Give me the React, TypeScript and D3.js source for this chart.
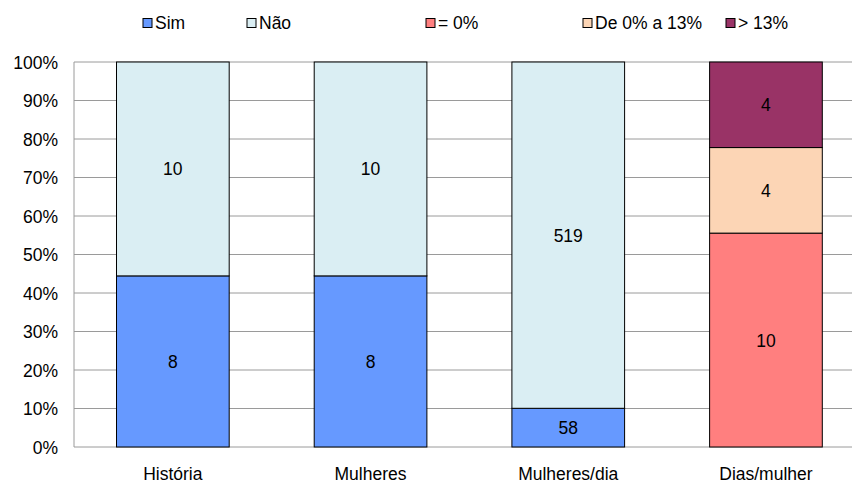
import React from "react";
import * as d3 from "d3";

const categories = ["História", "Mulheres", "Mulheres/dia", "Dias/mulher"];
const seriesNames = ["Sim", "Não", "= 0%", "De 0% a 13%", "> 13%"];
const seriesColors = ["#6699FF", "#DAEEF3", "#FF7F7F", "#FCD5B5", "#993366"];
// values per category, per series (stack order bottom -> top)
const simValues = [8, 8, 58, 0];
const naoValues = [10, 10, 519, 0];
const zeroValues = [0, 0, 0, 10];
const midValues = [0, 0, 0, 4];
const highValues = [0, 0, 0, 4];
const yTicks = [0, 0.1, 0.2, 0.3, 0.4, 0.5, 0.6, 0.7, 0.8, 0.9, 1];

const W = 852, H = 484;
const left = 74, top = 62, bottom = 447;
const step = 197.7;
const legendX = [143, 247, 426, 583, 726];

export default function App() {
  const allSeries = [simValues, naoValues, zeroValues, midValues, highValues];
  const x = d3
    .scaleBand<string>()
    .domain(categories)
    .range([left, left + step * categories.length])
    .paddingInner(0.43)
    .paddingOuter(0.215);
  const y = d3.scaleLinear().domain([0, 1]).range([bottom, top]);
  const fmt = d3.format(".0%");

  const segs: any[] = [];
  categories.forEach((c, ci) => {
    const total = d3.sum(allSeries, (s) => s[ci]);
    let acc = 0;
    allSeries.forEach((s, si) => {
      const v = s[ci];
      if (v > 0) {
        const y0 = acc / total;
        const y1 = (acc + v) / total;
        segs.push({ c, si, v, y0, y1 });
        acc += v;
      }
    });
  });

  const font = "Liberation Sans, Arial, sans-serif";
  const fs = 17.5;
  return (
    <svg width={W} height={H} style={{ position: "absolute", left: 0, top: 0, background: "#fff" }} fontFamily={font}>
      {yTicks.map((t) => (
        <g key={t}>
          <line x1={left} x2={W} y1={y(t)} y2={y(t)} stroke="#9a9a9a" strokeWidth={1} />
          <text x={58} y={y(t) + 6.5} fontSize={fs} textAnchor="end" fill="#000">
            {fmt(t)}
          </text>
        </g>
      ))}
      <line x1={left} x2={left} y1={top} y2={bottom} stroke="#9a9a9a" strokeWidth={1} />
      {segs.map((s, i) => (
        <g key={i}>
          <rect
            x={x(s.c)}
            y={y(s.y1)}
            width={x.bandwidth()}
            height={y(s.y0) - y(s.y1)}
            fill={seriesColors[s.si]}
            stroke="#000"
            strokeWidth={1}
          />
          <text
            x={(x(s.c) as number) + x.bandwidth() / 2}
            y={(y(s.y0) + y(s.y1)) / 2 + 6.5}
            fontSize={fs}
            textAnchor="middle"
            fill="#000"
          >
            {s.v}
          </text>
        </g>
      ))}
      {categories.map((c) => (
        <text key={c} x={(x(c) as number) + x.bandwidth() / 2} y={480} fontSize={fs} textAnchor="middle" fill="#000">
          {c}
        </text>
      ))}
      {seriesNames.map((n, i) => (
        <g key={n}>
          <rect x={legendX[i]} y={18.5} width={9} height={9} fill={seriesColors[i]} stroke="#000" strokeWidth={1} />
          <text x={legendX[i] + 12} y={29} fontSize={fs} fill="#000">
            {n}
          </text>
        </g>
      ))}
    </svg>
  );
}
